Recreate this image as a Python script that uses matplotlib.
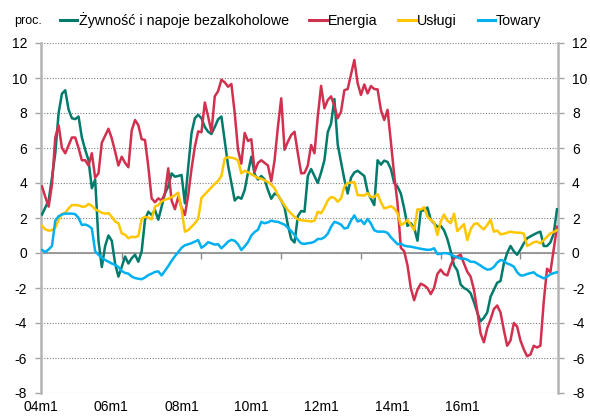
import numpy as np
import matplotlib
matplotlib.use("Agg")
import matplotlib.pyplot as plt
from matplotlib.lines import Line2D

plt.rcParams['font.family'] = ['Liberation Sans', 'DejaVu Sans']
plt.rcParams['axes.unicode_minus'] = False

# Monthly data, 2004m1 .. 2016m12 (156 months), y/y % change
zywnosc = [2.2, 2.6, 3.0, 4.3, 5.7, 8.0, 9.1, 9.3, 8.2, 7.7,
           7.65, 7.8, 6.6, 5.9, 5.3, 3.7, 4.2, 0.7, -0.8, 0.4,
           1.0, 0.7, -0.6, -1.35, -0.8, -0.2, -0.6, -0.3, -0.1, -0.5,
           0.1, 1.9, 2.36, 2.17, 2.46, 1.9, 2.65, 3.4, 3.8, 4.55,
           4.36, 4.4, 4.46, 2.84, 4.9, 6.84, 7.7, 7.9, 7.7, 7.2,
           6.93, 6.8, 7.2, 7.64, 7.8, 6.4, 5.0, 4.0, 3.0, 3.2,
           3.1, 3.6, 4.6, 5.5, 4.5, 4.2, 4.4, 4.2, 3.6, 3.1,
           3.4, 3.3, 3.0, 2.6, 1.6, 0.8, 0.6, 2.1, 2.4, 2.36,
           4.4, 4.8, 4.4, 4.0, 4.6, 5.3, 6.9, 7.4, 8.8, 6.2,
           5.2, 4.2, 3.4, 4.3, 4.6, 4.7, 4.55, 4.4, 3.5, 3.1,
           2.74, 5.3, 5.05, 5.28, 5.2, 4.8, 4.0, 3.8, 3.4, 2.55,
           1.55, 1.7, 1.45, 0.7, 2.4, 2.45, 2.6, 1.9, 1.7, 1.5,
           1.55, 1.3, 0.8, 0.1, -0.7, -1.0, -1.8, -2.0, -2.1, -2.3,
           -2.8, -3.4, -3.9, -3.7, -3.4, -2.5, -2.1, -1.7, -1.6, -0.6,
           0.0, 0.4, 0.1, -0.1, 0.2, 0.55, 0.84, 0.95, 1.05, 1.15,
           1.22, 0.4, 0.4, 0.6, 1.1, 2.5]

energia = [3.8, 3.2, 2.65, 3.9, 6.6, 7.3, 6.0, 5.7, 6.15, 6.6,
           6.6, 6.0, 5.3, 5.3, 5.0, 5.7, 4.3, 4.55, 6.3, 6.7,
           7.1, 6.55, 5.8, 5.0, 5.5, 5.15, 4.9, 7.0, 7.6, 7.3,
           6.5, 6.46, 4.93, 3.12, 2.9, 3.12, 3.0, 3.4, 4.84, 3.0,
           2.5, 3.2, 2.6, 2.17, 3.3, 4.8, 6.07, 6.95, 6.9, 8.6,
           7.8, 6.9, 8.95, 9.25, 9.9, 9.75, 9.5, 9.66, 8.0, 5.9,
           5.1, 6.86, 6.4, 6.5, 4.65, 5.15, 5.3, 5.15, 5.0, 4.1,
           5.3, 7.2, 8.84, 5.9, 6.36, 6.74, 6.93, 5.7, 4.55, 4.57,
           5.0, 6.17, 5.7, 7.8, 9.55, 8.27, 8.74, 8.95, 8.4, 7.7,
           8.08, 9.3, 9.37, 10.2, 11.03, 9.7, 9.03, 9.63, 9.12, 9.54,
           9.37, 9.35, 8.17, 7.6, 8.18, 6.36, 4.45, 2.84, 0.3, 0.1,
           -0.7, -2.0, -2.7, -2.1, -1.75, -1.85, -2.0, -2.35, -2.0, -1.2,
           -0.95, -1.2, -1.28, -0.7, -0.3, -0.2, -0.1, -0.6, -1.07, -1.35,
           -2.1, -3.3, -4.6, -5.1, -4.3, -3.8, -3.2, -3.0, -3.4, -4.4,
           -5.3, -5.0, -4.0, -4.2, -5.0, -5.5, -5.9, -5.8, -5.3, -5.4,
           -5.3, -2.8, -0.9, -1.1, 0.2, 1.5]

uslugi = [1.55, 1.35, 1.28, 1.3, 1.45, 1.9, 2.23, 2.3, 2.55, 2.74,
          2.74, 2.72, 2.65, 2.65, 2.8, 2.7, 2.5, 2.4, 2.3, 2.25,
          2.28, 2.07, 1.8, 1.7, 1.12, 1.05, 0.84, 0.93, 0.9, 0.97,
          1.95, 2.07, 2.02, 1.92, 2.65, 2.74, 2.95, 3.05, 3.1, 3.2,
          3.3, 3.45, 2.5, 1.22, 1.31, 1.5, 1.7, 1.95, 3.15, 3.35,
          3.55, 3.75, 3.95, 4.12, 4.4, 5.4, 5.47, 5.45, 5.4, 5.3,
          4.55, 4.7, 4.62, 4.5, 4.4, 4.28, 4.25, 4.15, 4.05, 3.9,
          3.7, 3.3, 3.0, 2.72, 2.45, 2.25, 2.07, 1.92, 1.87, 1.85,
          1.83, 1.8, 1.85, 2.36, 2.27, 2.6, 3.0, 3.2, 3.15, 2.93,
          3.12, 3.8, 4.0, 4.02, 4.05, 3.3, 3.3, 3.28, 3.42, 3.2,
          3.2, 3.37, 2.9, 2.55, 2.6, 2.68, 2.55, 2.27, 1.6, 1.7,
          1.89, 1.6, 1.31, 2.5, 2.48, 2.62, 2.08, 1.89, 1.75, 1.03,
          1.8, 2.2, 1.85, 1.7, 2.25, 1.25, 1.45, 1.65, 0.74, 1.35,
          1.65, 1.7, 1.5, 1.35, 1.6, 1.9, 1.22, 1.28, 1.07, 1.1,
          1.16, 1.22, 1.18, 1.16, 1.16, 1.1, 0.4, 0.5, 0.62, 0.65,
          0.55, 0.74, 0.93, 1.12, 1.2, 1.3]

towary = [0.17, 0.06, 0.2, 0.4, 1.85, 2.1, 2.2, 2.25, 2.25, 2.25,
          2.22, 2.0, 1.6, 1.63, 1.55, 1.4, 0.1, -0.1, -0.27, -0.4,
          -0.5, -0.6, -0.68, -0.8, -1.03, -1.14, -1.18, -1.35, -1.43, -1.47,
          -1.5, -1.4, -1.26, -1.18, -1.08, -1.05, -1.28, -1.02, -0.75, -0.45,
          -0.18, 0.05, 0.3, 0.44, 0.5, 0.56, 0.65, 0.74, 0.3, 0.43,
          0.62, 0.55, 0.48, 0.5, 0.27, 0.45, 0.65, 0.75, 0.7, 0.5,
          0.17, 0.38, 0.62, 1.0, 1.2, 1.33, 1.78, 1.7, 1.75, 1.85,
          1.8, 1.78, 1.7, 1.62, 1.45, 1.25, 1.03, 0.75, 0.55, 0.52,
          0.56, 0.58, 0.65, 0.8, 0.8, 0.9, 1.1, 1.5, 1.78, 1.72,
          1.62, 1.4, 1.45, 1.85, 2.15, 1.8, 1.88, 1.65, 1.95, 1.68,
          1.3, 1.22, 1.22, 1.22, 1.15, 0.9, 0.7, 0.5, 0.53, 0.42,
          0.38, 0.36, 0.32, 0.28, 0.24, 0.21, 0.18, 0.19, 0.27, -0.06,
          -0.05, 0.0, -0.02, -0.08, -0.18, -0.25, -0.32, -0.32, -0.38, -0.5,
          -0.5, -0.6, -0.72, -0.85, -0.95, -0.93, -0.8, -0.55, -0.4, -0.45,
          -0.6, -0.67, -0.78, -1.1, -1.28, -1.28, -1.2, -1.15, -1.1, -1.27,
          -1.35, -1.45, -1.35, -1.22, -1.15, -1.1]

series_labels = ['Żywność i napoje bezalkoholowe', 'Energia', 'Usługi', 'Towary']
series_colors = ['#007B6B', '#D1304E', '#FFC600', '#00B0F0']
x_labels = ['04m1', '06m1', '08m1', '10m1', '12m1', '14m1', '16m1']

months = np.arange(len(zywnosc))
series = [zywnosc, energia, uslugi, towary]

W, H = 590, 417
fig = plt.figure(figsize=(W / 100, H / 100), dpi=100)
ax = fig.add_axes([41 / W, 1 - 393 / H, (558 - 41) / W, 350 / H])

for vals, col, lab in zip(series, series_colors, series_labels):
    ax.plot(months, vals, color=col, lw=1.8, label=lab, zorder=3,
            solid_joinstyle='round')

ax.set_xlim(-0.3, 155.3)
ax.set_ylim(-8, 12)

# y axis both sides
ax.set_yticks(np.arange(-8, 13, 2))
ax.yaxis.set_major_formatter(plt.FuncFormatter(lambda v, _: f"{int(round(v))}"))
ax.yaxis.set_ticks_position('both')
ax.tick_params(axis='y', direction='out', length=4, width=1, color='#a6a6a6',
               labelsize=10, pad=6, labelleft=True, labelright=True)
ax.grid(axis='y', color='#7f7f7f', linestyle=(0, (1, 1.5)), linewidth=0.8)
ax.set_axisbelow(True)

for side in ['left', 'right']:
    ax.spines[side].set_color('#b4b4b4')
    ax.spines[side].set_linewidth(1.8)
ax.spines['top'].set_visible(False)
ax.spines['bottom'].set_position(('data', 0))
ax.spines['bottom'].set_color('#8c8c8c')
ax.spines['bottom'].set_linewidth(1.2)
ax.spines['bottom'].set_zorder(1.5)

# small tick marks every 24 months on the zero line
ax.set_xticks(np.arange(24, 156, 24))
ax.tick_params(axis='x', direction='out', length=4, width=1, color='#8c8c8c',
               labelbottom=False)

# category labels along the bottom
secax = ax.secondary_xaxis(0.0)
secax.set_xticks(np.linspace(-0.25, 126.4, len(x_labels)), labels=x_labels)
secax.tick_params(length=0, pad=5, labelsize=10)
secax.spines['bottom'].set_visible(False)

fig.text(14 / W, 1 - 21 / H, 'proc.', fontsize=9, ha='left', va='center')

handles = [Line2D([], [], color=c, lw=2.2) for c in series_colors]
fig.legend(handles, series_labels, loc='center left',
           bbox_to_anchor=(60 / W, 1 - 20 / H), ncol=4, frameon=False,
           handlelength=1.2, handletextpad=0.1, columnspacing=1.45,
           borderaxespad=0, borderpad=0, fontsize=10.3)

fig.savefig('out.png', dpi=100)
